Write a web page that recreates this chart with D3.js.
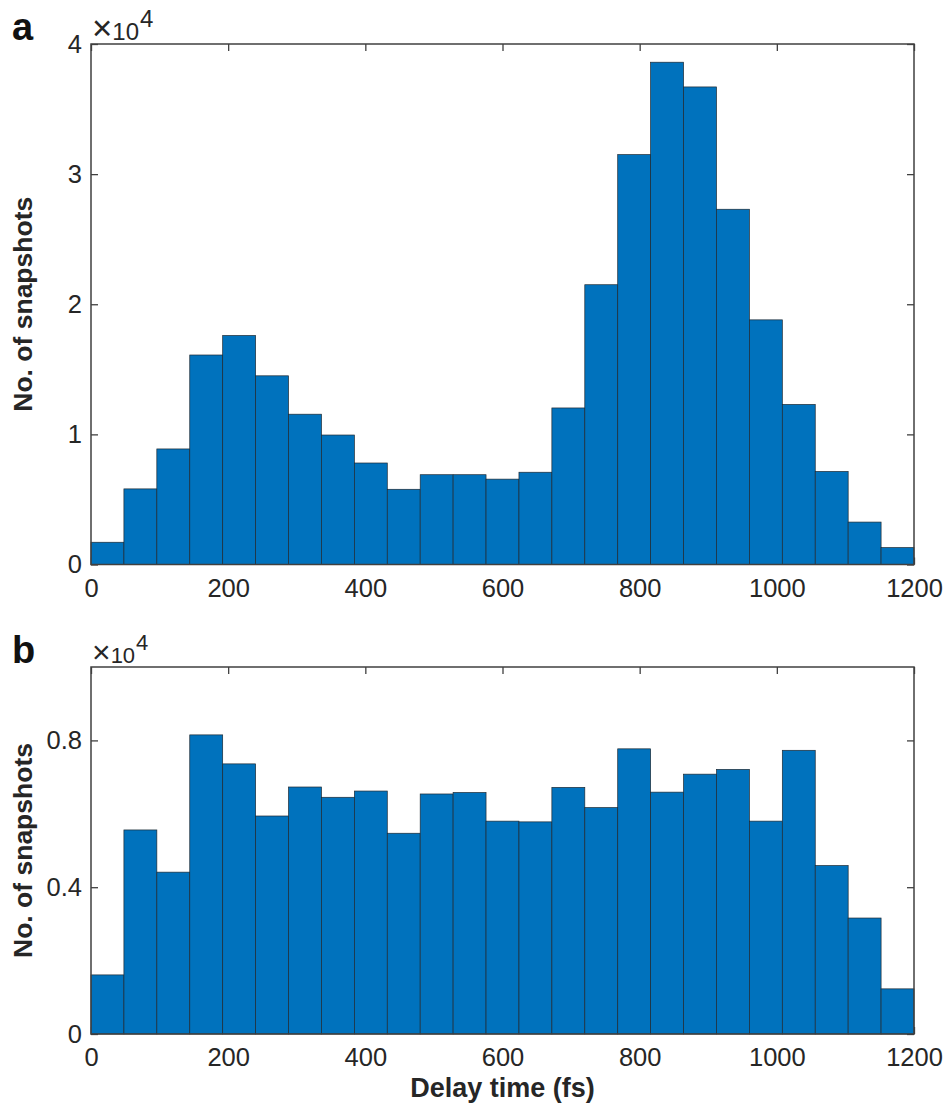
<!DOCTYPE html>
<html>
<head>
<meta charset="utf-8">
<script src="https://cdn.jsdelivr.net/npm/d3@7"></script>
<style>
  body { margin: 0; background: #fff; }
  text { font-family: "Liberation Sans", Arial, sans-serif; }
</style>
</head>
<body>
<script>
// Début de chaque bin (fs), largeur 48 fs
const binStarts = [0, 48, 96, 144, 192, 240, 288, 336, 384, 432, 480, 528, 576,
  624, 672, 720, 768, 816, 864, 912, 960, 1008, 1056, 1104, 1152]
const binWidth = 48

// Nombre de snapshots par bin, panneau a et panneau b
const countsA = [1710, 5810, 8880, 16100, 17600, 14500, 11550, 9950, 7800, 5780, 6900, 6900, 6560,
  7090, 12030, 21500, 31500, 38600, 36700, 27300, 18800, 12300, 7150, 3260, 1300]
const countsB = [1610, 5560, 4410, 8150, 7360, 5940, 6730, 6450, 6620, 5470, 6540, 6580, 5800,
  5780, 6720, 6170, 7770, 6590, 7080, 7210, 5800, 7730, 4590, 3160, 1230]

const xTicks = [0, 200, 400, 600, 800, 1000, 1200]
const yTicksA = [0, 10000, 20000, 30000, 40000]
const yTicksB = [0, 4000, 8000]
const yLabelsA = ["0", "1", "2", "3", "4"]
const yLabelsB = ["0", "0.4", "0.8"]

//Création du canva SVG
let svg = d3.select("body")
    .append("svg")
    .attr("width", 951)
    .attr("height", 1111)
    .style('background-color', 'white')

const x = d3.scaleLinear().domain([0, 1200]).range([91, 914])

function panel(counts, yMax, top, bottom, yTicks, yLabels, letter, multSize, showXLabel) {
    const y = d3.scaleLinear().domain([0, yMax]).range([bottom, top])
    const g = svg.append("g")

    //ticks du haut et de la droite (vers l'intérieur)
    g.append("g")
        .attr("transform", `translate(0,${top})`)
        .call(d3.axisTop(x).tickValues(xTicks).tickSizeInner(-7).tickSizeOuter(0).tickFormat(""))
    g.append("g")
        .attr("transform", "translate(914,0)")
        .call(d3.axisRight(y).tickValues(yTicks).tickSizeInner(-7).tickSizeOuter(0).tickFormat(""))

    //axe du bas avec les labels
    g.append("g")
        .attr("transform", `translate(0,${bottom})`)
        .call(d3.axisBottom(x).tickValues(xTicks).tickSizeInner(-7).tickSizeOuter(0).tickPadding(14)
            .tickFormat(d3.format("d")))

    //axe de gauche
    g.append("g")
        .attr("transform", "translate(91,0)")
        .call(d3.axisLeft(y).tickValues(yTicks).tickSizeInner(-7).tickSizeOuter(0).tickPadding(9)
            .tickFormat((d, i) => yLabels[i]))

    g.selectAll(".domain").remove()
    g.selectAll(".tick line").attr("stroke", "#404040").attr("stroke-width", 1.3)
    g.selectAll(".tick text")
        .attr("fill", "#262626")
        .style("font-size", "25.5px")

    //barres de l'histogramme
    g.append("g").selectAll("rect")
        .data(counts)
        .enter()
        .append("rect")
        .attr("x", (d, i) => x(binStarts[i]))
        .attr("y", d => y(d))
        .attr("width", (d, i) => x(binStarts[i] + binWidth) - x(binStarts[i]))
        .attr("height", d => bottom - y(d))
        .attr("fill", "#0072BD")
        .attr("stroke", "#1f2a33")
        .attr("stroke-width", 0.7)

    //cadre
    g.append("rect")
        .attr("x", 91)
        .attr("y", top)
        .attr("width", 914 - 91)
        .attr("height", bottom - top)
        .attr("fill", "none")
        .attr("stroke", "#404040")
        .attr("stroke-width", 1.5)

    //facteur x10^4
    const mult = g.append("text")
        .attr("x", 92)
        .attr("y", top - 4)
        .attr("fill", "#262626")
        .style("font-size", multSize + "px")
    mult.append("tspan").style("font-size", (multSize * 1.45) + "px").style("font-weight", 300).text("×")
    mult.append("tspan").text("10")
    mult.append("tspan").attr("dy", -13).attr("dx", 1).text("4")

    //lettre du panneau
    g.append("text")
        .attr("x", 12)
        .attr("y", letter === "a" ? 40 : 663)
        .style("font-size", "38px")
        .style("font-weight", "bold")
        .attr("fill", "#111")
        .text(letter)

    //titre de l'axe y
    g.append("text")
        .attr("transform", `translate(32,${(top + bottom) / 2}) rotate(-90)`)
        .attr("text-anchor", "middle")
        .style("font-size", "26.5px")
        .style("font-weight", "bold")
        .attr("fill", "#262626")
        .text("No. of snapshots")

    if (showXLabel) {
        g.append("text")
            .attr("x", (91 + 914) / 2)
            .attr("y", 1097)
            .attr("text-anchor", "middle")
            .style("font-size", "27px")
            .style("font-weight", "bold")
            .attr("fill", "#262626")
            .text("Delay time (fs)")
    }
}

panel(countsA, 40000, 44, 564.5, yTicksA, yLabelsA, "a", 24, false)
panel(countsB, 10000, 667, 1034, yTicksB, yLabelsB, "b", 22, true)
</script>
</body>
</html>
